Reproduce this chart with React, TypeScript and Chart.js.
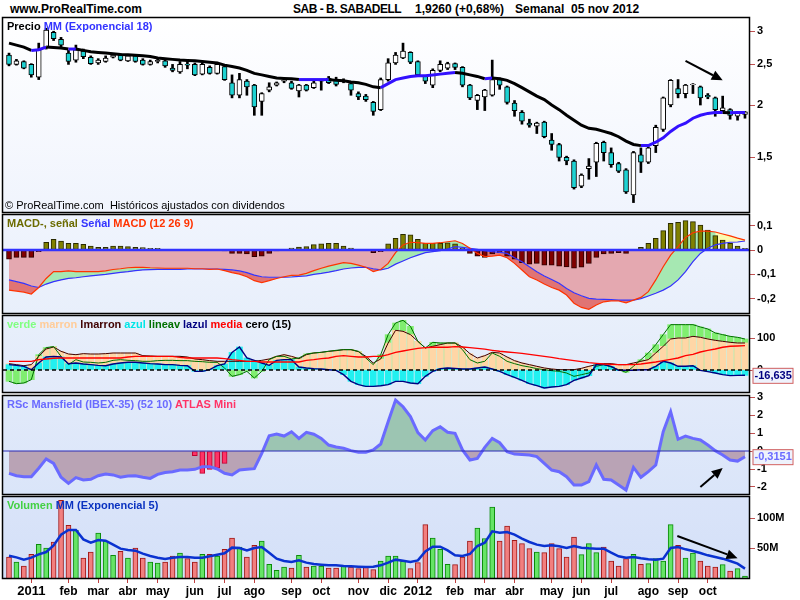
import React, { useEffect, useRef } from "react";
import { Chart, registerables } from "chart.js";

Chart.register(...registerables);

const FONT = '"Liberation Sans", Arial, Helvetica, sans-serif';
Chart.defaults.font.family = FONT;

// ---------------- DATA ----------------
const opens = [
  2.63, 2.50, 2.54, 2.50, 2.33, 2.74, 2.98, 2.87, 2.66, 2.56,
  2.69, 2.60, 2.52, 2.54, 2.60, 2.63, 2.55, 2.62, 2.56, 2.50,
  2.54, 2.55, 2.45, 2.40, 2.505, 2.50, 2.37, 2.46, 2.38, 2.47,
  2.26, 2.11, 2.28, 2.23, 2.04, 2.17, 2.23, 2.28, 2.26, 2.16,
  2.23, 2.20, 2.28, 2.32, 2.30, 2.28, 2.25, 2.13, 2.10, 2.03,
  1.95, 2.30, 2.52, 2.59, 2.67, 2.54, 2.34, 2.23, 2.42, 2.45,
  2.51, 2.46, 2.23, 2.05, 2.09, 2.11, 2.30, 2.21, 2.02, 1.92,
  1.81, 1.78, 1.82, 1.65, 1.61, 1.50, 1.47, 1.28, 1.41, 1.46,
  1.63, 1.54, 1.45, 1.40, 1.22, 1.52, 1.46, 1.60, 1.75, 2.00,
  2.19, 2.13, 2.235, 2.21, 2.11, 2.08, 1.94, 1.95, 1.88, 1.90,
];
const highs = [
  2.66, 2.57, 2.55, 2.51, 2.81, 3.05, 3.00, 2.90, 2.70, 2.78,
  2.72, 2.62, 2.58, 2.62, 2.65, 2.65, 2.64, 2.64, 2.58, 2.56,
  2.58, 2.58, 2.50, 2.54, 2.56, 2.52, 2.52, 2.48, 2.53, 2.50,
  2.36, 2.38, 2.30, 2.24, 2.14, 2.26, 2.27, 2.31, 2.28, 2.24,
  2.24, 2.28, 2.30, 2.34, 2.33, 2.31, 2.27, 2.15, 2.12, 2.04,
  2.32, 2.58, 2.67, 2.81, 2.68, 2.55, 2.35, 2.44, 2.55, 2.53,
  2.52, 2.47, 2.24, 2.12, 2.18, 2.56, 2.32, 2.22, 2.05, 1.94,
  1.85, 1.82, 1.83, 1.71, 1.62, 1.51, 1.48, 1.37, 1.49, 1.63,
  1.64, 1.58, 1.46, 1.41, 1.55, 1.58, 1.59, 1.79, 2.09, 2.30,
  2.30, 2.24, 2.25, 2.22, 2.13, 2.09, 2.10, 1.96, 1.93, 1.93,
];
const lows = [
  2.48, 2.49, 2.44, 2.33, 2.30, 2.72, 2.85, 2.75, 2.50, 2.53,
  2.58, 2.50, 2.50, 2.53, 2.59, 2.55, 2.54, 2.53, 2.49, 2.49,
  2.52, 2.46, 2.40, 2.38, 2.44, 2.35, 2.36, 2.37, 2.37, 2.29,
  2.08, 2.08, 2.11, 1.89, 1.89, 2.15, 2.22, 2.26, 2.18, 2.09,
  2.16, 2.19, 2.17, 2.25, 2.22, 2.26, 2.11, 2.06, 2.04, 1.89,
  1.94, 2.28, 2.50, 2.58, 2.51, 2.35, 2.25, 2.20, 2.40, 2.43,
  2.43, 2.21, 2.06, 1.95, 1.94, 2.10, 2.18, 2.01, 1.88, 1.80,
  1.77, 1.71, 1.67, 1.56, 1.47, 1.44, 1.26, 1.27, 1.33, 1.35,
  1.47, 1.42, 1.38, 1.23, 1.17, 1.38, 1.45, 1.54, 1.73, 1.98,
  2.08, 2.08, 2.13, 2.00, 2.07, 1.88, 1.93, 1.85, 1.84, 1.86,
];
const closes = [
  2.50, 2.55, 2.45, 2.36, 2.71, 3.02, 2.88, 2.78, 2.54, 2.71,
  2.61, 2.51, 2.56, 2.59, 2.63, 2.56, 2.62, 2.54, 2.50, 2.54,
  2.555, 2.48, 2.42, 2.50, 2.49, 2.36, 2.50, 2.38, 2.50, 2.30,
  2.11, 2.30, 2.21, 1.98, 2.13, 2.21, 2.26, 2.29, 2.19, 2.23,
  2.17, 2.26, 2.29, 2.26, 2.24, 2.29, 2.17, 2.09, 2.06, 1.93,
  2.30, 2.52, 2.63, 2.69, 2.53, 2.36, 2.28, 2.42, 2.50, 2.51,
  2.46, 2.23, 2.08, 2.11, 2.17, 2.30, 2.23, 2.03, 1.94, 1.83,
  1.79, 1.81, 1.68, 1.61, 1.50, 1.47, 1.27, 1.36, 1.43, 1.62,
  1.54, 1.44, 1.39, 1.24, 1.54, 1.46, 1.58, 1.77, 2.08, 2.29,
  2.13, 2.23, 2.24, 2.08, 2.09, 1.95, 1.97, 1.89, 1.92, 1.926,
];
const priceEma = [
  2.81, 2.78, 2.75, 2.70, 2.71, 2.75, 2.745, 2.735, 2.72, 2.72,
  2.70, 2.68, 2.67, 2.66, 2.65, 2.64, 2.635, 2.63, 2.62, 2.61,
  2.59, 2.58, 2.57, 2.56, 2.555, 2.55, 2.54, 2.53, 2.52, 2.49,
  2.47, 2.45, 2.42, 2.38, 2.36, 2.34, 2.32, 2.315, 2.31, 2.30,
  2.30, 2.30, 2.30, 2.30, 2.29, 2.285, 2.27, 2.26, 2.24, 2.21,
  2.20, 2.25, 2.30, 2.32, 2.34, 2.35, 2.35, 2.36, 2.37, 2.38,
  2.39, 2.38, 2.36, 2.34, 2.31, 2.32, 2.31, 2.29, 2.25, 2.20,
  2.15, 2.10, 2.06, 2.00, 1.95, 1.89, 1.84, 1.79, 1.76, 1.75,
  1.73, 1.71, 1.68, 1.64, 1.61, 1.60, 1.60, 1.63, 1.67, 1.73,
  1.78, 1.81, 1.86, 1.89, 1.91, 1.92, 1.92, 1.918, 1.92, 1.92,
];

const macdLine = [
  -0.165, -0.169, -0.173, -0.181, -0.154, -0.117, -0.089, -0.089, -0.086, -0.089,
  -0.089, -0.089, -0.089, -0.086, -0.080, -0.077, -0.073, -0.071, -0.071, -0.073,
  -0.074, -0.075, -0.075, -0.075, -0.075, -0.077, -0.077, -0.080, -0.078, -0.085,
  -0.093, -0.099, -0.110, -0.126, -0.134, -0.126, -0.117, -0.110, -0.104, -0.103,
  -0.096, -0.085, -0.075, -0.066, -0.059, -0.052, -0.055, -0.062, -0.071, -0.089,
  -0.080, -0.055, -0.011, 0.021, 0.032, 0.030, 0.027, 0.027, 0.030, 0.034,
  0.038, 0.027, 0.007, -0.014, -0.027, -0.025, -0.021, -0.032, -0.055, -0.082,
  -0.110, -0.123, -0.140, -0.154, -0.165, -0.185, -0.219, -0.236, -0.244, -0.226,
  -0.213, -0.209, -0.209, -0.217, -0.206, -0.195, -0.171, -0.123, -0.069, -0.021,
  0.014, 0.052, 0.071, 0.078, 0.078, 0.074, 0.066, 0.058, 0.049, 0.041,
];
const signalLine = [
  -0.123, -0.130, -0.137, -0.148, -0.154, -0.140, -0.130, -0.123, -0.117, -0.114,
  -0.110, -0.106, -0.103, -0.100, -0.096, -0.092, -0.089, -0.085, -0.082, -0.081,
  -0.080, -0.080, -0.080, -0.080, -0.078, -0.078, -0.078, -0.078, -0.078, -0.080,
  -0.082, -0.086, -0.093, -0.103, -0.110, -0.112, -0.112, -0.112, -0.111, -0.108,
  -0.106, -0.100, -0.096, -0.091, -0.085, -0.078, -0.074, -0.071, -0.071, -0.077,
  -0.082, -0.075, -0.058, -0.045, -0.032, -0.021, -0.011, -0.007, -0.003, 0.004,
  0.014, 0.011, 0.007, 0.003, -0.003, -0.007, -0.010, -0.014, -0.032, -0.048,
  -0.069, -0.089, -0.107, -0.121, -0.137, -0.158, -0.176, -0.188, -0.199, -0.202,
  -0.203, -0.204, -0.206, -0.206, -0.206, -0.200, -0.189, -0.178, -0.165, -0.148,
  -0.123, -0.089, -0.048, -0.014, 0.007, 0.021, 0.027, 0.032, 0.033, 0.037,
];
const macdHist = [
  -0.038, -0.030, -0.030, -0.030, -0.007, 0.032, 0.044, 0.037, 0.027, 0.027,
  0.023, 0.016, 0.011, 0.011, 0.016, 0.016, 0.014, 0.011, 0.010, 0.007,
  0.007, 0.002, 0.002, 0.002, 0.002, 0.001, 0.001, 0.001, 0.001, -0.004,
  -0.014, -0.014, -0.016, -0.027, -0.025, -0.014, -0.004, 0.002, 0.008, 0.012,
  0.014, 0.022, 0.025, 0.027, 0.027, 0.016, 0.008, 0.003, 0.001, -0.011,
  -0.007, 0.025, 0.048, 0.064, 0.062, 0.044, 0.027, 0.027, 0.027, 0.030,
  0.025, 0.007, -0.014, -0.025, -0.030, -0.016, -0.011, -0.025, -0.038, -0.052,
  -0.058, -0.055, -0.062, -0.062, -0.066, -0.069, -0.075, -0.071, -0.055, -0.030,
  -0.016, -0.014, -0.011, -0.014, 0.003, 0.011, 0.027, 0.048, 0.080, 0.110,
  0.114, 0.121, 0.117, 0.103, 0.082, 0.059, 0.041, 0.027, 0.016, 0.007,
];
// first week of the pale-yellow (weakening) zone at the end of the MACD panel
const macdFadeStart = 95;

// oscillator "verde marron lmarron azul lineav lazul media cero (15)"
const oscMedia = [
  27.1, 27.1, 27.1, 27.1, 32.3, 34.4, 36.5, 37.5, 37.5, 37.5,
  37.5, 37.5, 37.5, 37.5, 37.5, 37.5, 40.6, 42.7, 42.7, 42.7,
  42.7, 42.7, 42.7, 39.6, 37.5, 37.5, 37.5, 37.5, 37.5, 35.4,
  32.3, 30.2, 27.1, 27.1, 25.0, 25.0, 25.0, 25.0, 25.0, 25.0,
  30.2, 32.3, 35.4, 37.5, 42.7, 44.8, 42.7, 40.6, 40.6, 42.7,
  42.7, 47.9, 55.2, 59.4, 63.6, 67.7, 69.8, 70.9, 70.9, 70.9,
  72.9, 71.9, 70.0, 67.7, 65.1, 61.5, 58.4, 56.3, 54.2, 52.1,
  49.0, 45.8, 42.7, 39.6, 35.4, 32.3, 29.2, 26.1, 22.9, 20.8,
  18.8, 17.7, 16.7, 16.7, 16.7, 18.8, 21.9, 25.0, 29.2, 33.3,
  37.5, 44.8, 49.0, 56.3, 61.5, 65.6, 70.9, 74.0, 75.0, 76.1,
];
const oscLmarron = [
  19.8, 16.7, 13.5, 16.7, 42.7, 65.6, 71.9, 58.4, 50.0, 47.9,
  51.1, 50.0, 50.0, 51.1, 53.1, 53.1, 53.1, 53.1, 44.8, 43.8,
  42.7, 42.7, 42.7, 42.7, 40.6, 34.4, 32.3, 29.2, 27.1, 27.1,
  27.1, 27.1, 27.1, 27.1, 30.2, 34.4, 42.7, 47.9, 42.7, 35.4,
  47.9, 53.1, 55.2, 58.4, 60.4, 63.6, 63.6, 57.3, 42.7, 21.9,
  34.4, 84.4, 124.0, 120.9, 110.5, 89.6, 68.8, 74.0, 79.2, 84.4,
  84.4, 71.9, 51.1, 37.5, 44.8, 55.2, 53.1, 40.6, 29.2, 21.9,
  16.7, 11.5, 6.3, 3.1, 1.0, 1.0, 1.0, 5.2, 11.5, 16.7,
  19.8, 19.8, 16.7, 16.7, 21.9, 27.1, 32.3, 53.1, 74.0, 96.9,
  100.0, 100.0, 105.2, 102.1, 96.9, 92.7, 89.6, 86.5, 84.4, 84.4,
];
const oscLineav = [
  -35.4, -42.7, -40.6, -30.2, 48.0, 70.0, 73.0, 42.7, 16.7, 32.3,
  25.0, 24.0, 21.9, 24.0, 30.2, 32.3, 30.2, 29.2, 27.1, 27.1,
  29.2, 30.2, 30.2, 29.2, 29.2, 27.1, 26.0, 24.0, 24.0, 6.3,
  -19.8, -14.6, -4.2, -25.0, -4.2, 32.3, 42.7, 42.7, 34.4, 37.5,
  50.0, 53.1, 55.2, 58.4, 61.5, 63.6, 63.6, 58.4, 37.5, 16.7,
  47.9, 110.5, 146.9, 155.3, 136.5, 89.6, 68.8, 86.5, 84.4, 84.4,
  84.4, 63.6, 32.3, 21.9, 27.1, 53.1, 42.7, 27.1, 19.8, 13.5,
  9.4, 4.2, 1.0, -2.1, -4.2, -9.4, -19.8, -14.6, -9.4, 11.5,
  16.7, 9.4, 1.0, -7.3, 11.5, 32.3, 53.1, 79.2, 110.5, 141.7,
  141.7, 141.7, 141.7, 134.4, 128.2, 115.7, 110.5, 105.2, 102.1, 96.9,
];
const oscLazul = [
  16.7, 14.6, 11.5, 1.0, 21.9, 40.6, 42.7, 40.6, 19.8, 21.9,
  18.8, 16.7, 14.6, 13.5, 18.8, 21.9, 24.0, 24.0, 21.9, 19.8,
  18.8, 16.7, 16.7, 14.6, 13.5, -4.2, -4.2, 1.0, 13.5, 18.8,
  55.0, 71.9, 37.5, 30.2, 21.9, 14.6, 30.2, 32.3, 32.3, 9.4,
  6.3, 4.2, 3.1, 1.0, -1.0, -14.6, -35.4, -45.8, -51.1, -51.1,
  -49.0, -45.8, -35.4, -35.4, -40.6, -42.7, -19.8, -4.2, 4.2, 6.3,
  5.2, 3.1, 3.1, 6.3, 9.4, 3.1, -4.2, -14.6, -22.9, -32.3,
  -42.7, -49.0, -56.3, -53.1, -51.1, -45.8, -32.3, -25.0, -17.7, 16.7,
  16.7, 11.5, -1.0, -1.0, -1.0, 1.0, 1.0, 11.5, 27.1, 21.9,
  11.5, 11.5, 13.5, -1.0, -5.2, -9.4, -14.6, -17.7, -16.7, -16.635,
];

const rscValues = [
  -1.24, -1.37, -1.43, -1.43, -0.96, -0.44, -0.69, -1.46, -1.80, -1.48,
  -1.61, -1.57, -1.37, -1.28, -1.33, -1.46, -1.39, -1.37, -1.46, -1.52,
  -1.30, -1.20, -1.15, -1.06, -1.06, -1.02, -0.87, -0.87, -1.00, -1.24,
  -1.33, -1.06, -1.02, -0.98, -0.13, 0.85, 0.94, 0.83, 1.07, 0.70,
  1.04, 0.93, 0.70, 0.33, 0.22, 0.15, 0.02, -0.07, -0.07, 0.06,
  0.39, 1.63, 2.83, 2.46, 1.91, 1.02, 0.61, 1.13, 1.35, 1.04,
  0.98, 0.06, -0.50, -0.41, 0.20, 0.70, 0.46, -0.04, -0.17, -0.19,
  -0.22, -0.31, -0.69, -1.06, -1.15, -1.43, -1.89, -1.89, -1.70, -0.78,
  -1.57, -1.61, -1.89, -2.17, -0.91, -1.46, -1.15, -0.78, 1.07, 2.19,
  0.65, 0.83, 0.70, 0.61, 0.33, 0.02, -0.22, -0.50, -0.56, -0.3151,
];
const atlasIdx = [25, 26, 27, 28, 29];
const atlasVals = [-0.26, -1.24, -1.02, -0.96, -0.69];

const volumes = [
  35.0, 26.7, 20.0, 39.4, 56.1, 50.0, 60.0, 129.4, 87.8, 79.4,
  33.3, 43.3, 75.0, 61.7, 37.8, 44.4, 33.3, 50.0, 33.3, 26.7,
  25.0, 26.7, 36.7, 41.7, 32.2, 26.7, 39.4, 39.4, 36.7, 47.8,
  66.7, 51.7, 35.0, 54.4, 61.7, 22.8, 12.8, 18.3, 16.7, 37.8,
  18.3, 20.0, 20.0, 16.7, 16.7, 20.0, 18.3, 15.6, 18.3, 13.9,
  28.3, 36.7, 36.7, 27.8, 15.6, 25.6, 88.9, 66.7, 47.8, 22.8,
  22.2, 35.0, 61.7, 83.3, 65.6, 118.3, 61.7, 86.7, 62.8, 57.2,
  48.9, 43.3, 42.2, 57.2, 48.9, 35.0, 68.3, 38.9, 57.2, 42.2,
  51.7, 28.3, 20.0, 32.2, 39.4, 22.8, 23.9, 32.2, 28.3, 88.9,
  54.4, 33.3, 41.7, 28.3, 20.0, 18.3, 22.2, 11.7, 15.6, 3.3,
];
const volumeEma = [
  37.2, 34.4, 30.6, 33.9, 39.4, 43.3, 54.4, 72.2, 80.0, 80.0,
  64.4, 58.9, 63.3, 62.2, 55.6, 48.9, 46.7, 45.6, 40.6, 36.7,
  33.9, 31.7, 33.9, 35.0, 35.0, 33.9, 33.9, 36.1, 38.9, 41.1,
  50.6, 50.0, 46.1, 50.0, 51.7, 42.2, 32.2, 28.3, 26.7, 29.4,
  25.6, 23.3, 22.2, 21.1, 21.1, 20.0, 19.4, 18.9, 18.3, 18.9,
  21.1, 25.6, 30.6, 28.9, 26.7, 29.4, 44.4, 52.2, 52.2, 46.1,
  37.8, 36.7, 40.0, 53.3, 58.9, 77.8, 75.6, 76.7, 72.2, 65.6,
  60.0, 55.6, 53.3, 54.4, 52.8, 50.0, 53.3, 50.6, 49.4, 48.9,
  48.9, 42.2, 36.1, 33.9, 35.0, 32.8, 31.1, 30.6, 32.2, 50.0,
  51.7, 47.8, 45.0, 41.7, 37.8, 35.0, 32.2, 28.3, 23.9, 15.6,
];

const monthTickIdx = [3, 8, 12, 16, 20, 25, 29, 33, 38, 42, 47, 51, 55, 60, 64, 68, 73, 77, 81, 86, 90, 94];
const monthLabels = ["2011", "feb", "mar", "abr", "may", "jun", "jul", "ago", "sep", "oct", "nov", "dic",
  "2012", "feb", "mar", "abr", "may", "jun", "jul", "ago", "sep", "oct"];

const priceTicks = [1.5, 2, 2.5, 3];
const priceTickLabels = ["1,5", "2", "2,5", "3"];
const macdTicks = [-0.2, -0.1, 0, 0.1];
const macdTickLabels = ["-0,2", "-0,1", "0", "0,1"];
const oscTicks = [0, 100];
const oscTickLabels = ["0", "100"];
const rscTicks = [-2, -1, 0, 1, 2, 3];
const rscTickLabels = ["-2", "-1", "0", "1", "2", "3"];
const volTicks = [50, 100];
const volTickLabels = ["50M", "100M"];

const priceArrow = { from: [91, 2.55], to: [96, 2.29] };
const rscArrow = { from: [93, -2.0], to: [96, -0.94] };
const volArrow = { from: [89.9, 70], to: [98, 33] };

// ---------------- LAYOUT ----------------
const X_MIN = -0.807;
const X_MAX = 99.54;
const PAD = 10;
const AXIS_W = 51;
const XAXIS_H = 22;

const P_PRICE = { top: 18, bottom: 212, min: 1.111, max: 3.226 };
const P_MACD = { top: 215, bottom: 313, min: -0.259, max: 0.144 };
const P_OSC = { top: 316, bottom: 392, min: -68.75, max: 168.75 };
const P_RSC = { top: 396, bottom: 494, min: -2.389, max: 3.056 };
const P_VOL = { top: 497, bottom: 578, min: 0, max: 135 };

const idx = opens.map((_, i) => i);
const isUp = (i: number) => closes[i] >= opens[i];
const pts = (arr: number[]) => arr.map((y, i) => ({ x: i, y }));

function bgAt(y: number) {
  const t = Math.min(1, Math.max(0, (y - 18) / 560));
  const a = [255, 255, 255];
  const b = [212, 224, 248];
  const c = a.map((v, k) => Math.round(v + (b[k] - v) * t));
  return `rgb(${c[0]},${c[1]},${c[2]})`;
}

function drawArrow(ctx: any, x0: number, y0: number, x1: number, y1: number) {
  const ang = Math.atan2(y1 - y0, x1 - x0);
  const L = 11, W = 5;
  const bx = x1 - L * Math.cos(ang), by = y1 - L * Math.sin(ang);
  ctx.save();
  ctx.strokeStyle = "#000";
  ctx.lineWidth = 2;
  ctx.beginPath();
  ctx.moveTo(x0, y0);
  ctx.lineTo(bx, by);
  ctx.stroke();
  ctx.fillStyle = "#000";
  ctx.beginPath();
  ctx.moveTo(x1, y1);
  ctx.lineTo(bx - W * Math.sin(ang), by + W * Math.cos(ang));
  ctx.lineTo(bx + W * Math.sin(ang), by - W * Math.cos(ang));
  ctx.closePath();
  ctx.fill();
  ctx.restore();
}

function panelPlugin(cfg: any) {
  return {
    id: "panel" + cfg.top,
    beforeDraw(chart: any) {
      const { ctx, chartArea: a } = chart;
      const g = ctx.createLinearGradient(0, a.top, 0, a.bottom);
      g.addColorStop(0, bgAt(cfg.top));
      g.addColorStop(1, bgAt(cfg.bottom));
      ctx.save();
      ctx.fillStyle = g;
      ctx.fillRect(a.left, a.top, a.right - a.left, a.bottom - a.top);
      ctx.restore();
    },
    afterDatasetsDraw(chart: any) {
      const { ctx, chartArea: a } = chart;
      const ys = chart.scales.y;
      (cfg.refLines || []).forEach((r: any) => {
        const y = ys.getPixelForValue(r.v);
        ctx.save();
        ctx.strokeStyle = r.color;
        ctx.lineWidth = r.width;
        if (r.dash) ctx.setLineDash(r.dash);
        ctx.beginPath();
        ctx.moveTo(a.left, y);
        ctx.lineTo(a.right, y);
        ctx.stroke();
        ctx.restore();
      });
    },
    afterDraw(chart: any) {
      const { ctx, chartArea: a } = chart;
      const xs = chart.scales.x, ys = chart.scales.y;
      ctx.save();
      (cfg.arrows || []).forEach((ar: any) => {
        drawArrow(ctx, xs.getPixelForValue(ar.from[0]), ys.getPixelForValue(ar.from[1]),
          xs.getPixelForValue(ar.to[0]), ys.getPixelForValue(ar.to[1]));
      });
      ctx.font = `bold 11px ${FONT}`;
      ctx.textBaseline = "alphabetic";
      ctx.textAlign = "left";
      let x = a.left + 4;
      (cfg.labels || []).forEach((s: any) => {
        ctx.fillStyle = s.c;
        ctx.fillText(s.t, x, a.top + 12);
        x += ctx.measureText(s.t).width;
      });
      if (cfg.footer) {
        ctx.font = `11px ${FONT}`;
        ctx.fillStyle = "#000";
        ctx.fillText(cfg.footer, a.left + 2, a.bottom - 3);
      }
      ctx.strokeStyle = "#000";
      ctx.lineWidth = 1.5;
      ctx.strokeRect(a.left - 0.5, a.top - 0.5, a.right - a.left + 1, a.bottom - a.top + 1);
      (cfg.boxes || []).forEach((b: any) => {
        const y = ys.getPixelForValue(b.v);
        const bx = a.right + 3.5, bw = 40, bh = 15;
        ctx.fillStyle = "#eef2fc";
        ctx.fillRect(bx, y - bh / 2, bw, bh);
        ctx.strokeStyle = "#d06060";
        ctx.lineWidth = 1;
        ctx.strokeRect(bx + 0.5, y - bh / 2 + 0.5, bw, bh);
        ctx.font = `bold 11px ${FONT}`;
        ctx.fillStyle = b.color;
        ctx.textBaseline = "middle";
        ctx.fillText(b.text, bx + 2, y + 0.5);
        ctx.textBaseline = "alphabetic";
      });
      ctx.restore();
    },
  };
}

function xScale(show: boolean) {
  return {
    type: "linear",
    min: X_MIN,
    max: X_MAX,
    offset: false,
    display: show,
    position: "bottom",
    grid: { display: show, offset: false, drawOnChartArea: false, drawTicks: true, tickLength: 5, color: "#c04040" },
    border: { display: false },
    afterBuildTicks: (axis: any) => { axis.ticks = monthTickIdx.map((v) => ({ value: v })); },
    afterFit: (s: any) => { s.height = show ? XAXIS_H : 0; },
    ticks: {
      display: show,
      autoSkip: false,
      maxRotation: 0,
      padding: 1,
      color: "#000",
      font: (c: any) => ({ family: FONT, weight: "bold", size: (monthLabels[c.index] || "").length === 4 ? 13 : 12 }),
      callback: (_v: any, i: number) => monthLabels[i],
    },
  };
}

function yScale(p: any, ticks: number[], labels: string[], type = "linear") {
  return {
    type,
    position: "right",
    min: p.min,
    max: p.max,
    grid: { drawOnChartArea: false, drawTicks: true, tickLength: 6, color: "#c05050" },
    border: { display: false },
    afterBuildTicks: (axis: any) => { axis.ticks = ticks.map((v) => ({ value: v })); },
    afterFit: (s: any) => { s.width = AXIS_W; },
    ticks: {
      autoSkip: false,
      padding: 2,
      color: "#000",
      font: { family: FONT, weight: "bold", size: 11 },
      callback: (_v: any, i: number) => labels[i],
    },
  };
}

function baseOptions(p: any, last: boolean, y: any) {
  return {
    responsive: false,
    animation: false,
    events: [],
    layout: { padding: { left: 3, right: 0, top: PAD, bottom: last ? 0 : PAD } },
    plugins: {
      legend: { display: false },
      tooltip: { enabled: false },
      filler: { drawTime: "beforeDatasetsDraw", propagate: false },
    },
    scales: { x: xScale(last), y },
  };
}

const fmt = (v: number, d: number) => v.toFixed(d).replace(".", ",");

function priceConfig(): any {
  return {
    type: "bar",
    data: {
      datasets: [
        {
          type: "line",
          data: pts(priceEma),
          borderWidth: 3,
          pointRadius: 0,
          tension: 0,
          borderColor: "#000",
          segment: {
            borderColor: (c: any) => (priceEma[c.p1DataIndex] >= priceEma[c.p0DataIndex] ? "#3311ff" : "#000000"),
          },
          order: 0,
        },
        {
          type: "bar",
          data: idx.map((i) => ({ x: i, y: [opens[i], closes[i]] })),
          backgroundColor: idx.map((i) => (isUp(i) ? "#ffffff" : "#1ed2d2")),
          borderColor: "#000",
          borderWidth: 1,
          borderSkipped: false,
          barThickness: 5,
          grouped: false,
          order: 1,
        },
        {
          type: "bar",
          data: idx.map((i) => ({ x: i, y: [lows[i], highs[i]] })),
          backgroundColor: "#000",
          borderWidth: 0,
          barThickness: 2,
          grouped: false,
          order: 2,
        },
      ],
    },
    options: baseOptions(P_PRICE, false, yScale(P_PRICE, priceTicks, priceTickLabels, "logarithmic")),
    plugins: [panelPlugin({
      top: P_PRICE.top, bottom: P_PRICE.bottom,
      labels: [{ t: "Precio ", c: "#000" }, { t: "MM (Exponencial 18)", c: "#3333ff" }],
      footer: "© ProRealTime.com  Históricos ajustados con dividendos",
      arrows: [priceArrow],
    })],
  };
}

function macdConfig(): any {
  return {
    type: "bar",
    data: {
      datasets: [
        {
          type: "line",
          data: pts(macdLine),
          borderColor: "#ff3300",
          borderWidth: 1.2,
          pointRadius: 0,
          tension: 0,
          fill: { target: 1, above: "#a6e8b2", below: "#e07474" },
        },
        {
          type: "line",
          data: pts(signalLine),
          borderColor: "#3333ff",
          borderWidth: 1.2,
          pointRadius: 0,
          tension: 0,
          fill: { target: "origin", above: "rgba(0,0,0,0)", below: "#e4a8b0" },
        },
        {
          type: "bar",
          data: pts(macdHist),
          backgroundColor: macdHist.map((v) => (v >= 0 ? "#808000" : "#800000")),
          borderColor: macdHist.map((v) => (v >= 0 ? "#2a2a00" : "#2a0000")),
          borderWidth: 1,
          borderSkipped: false,
          barThickness: 5,
          grouped: false,
        },
        {
          type: "line",
          data: pts(macdLine).slice(macdFadeStart),
          borderWidth: 0,
          borderColor: "rgba(0,0,0,0)",
          pointRadius: 0,
          tension: 0,
          fill: { target: 1, above: "#fbfbb0", below: "rgba(0,0,0,0)" },
          order: -1,
        },
      ],
    },
    options: baseOptions(P_MACD, false, yScale(P_MACD, macdTicks, macdTickLabels)),
    plugins: [panelPlugin({
      top: P_MACD.top, bottom: P_MACD.bottom,
      labels: [{ t: "MACD-, señal ", c: "#6b6b00" }, { t: "Señal ", c: "#3333ff" }, { t: "MACD (12 26 9)", c: "#ff3300" }],
      refLines: [{ v: 0, color: "#3333ff", width: 2.5 }],
    })],
  };
}

function oscConfig(): any {
  const bar = (arr: number[], color: string, order: number) => ({
    type: "bar",
    data: pts(arr),
    backgroundColor: color,
    borderWidth: 0,
    barThickness: 6,
    grouped: false,
    order,
  });
  const line = (arr: number[], color: string, w: number, order: number) => ({
    type: "line",
    data: pts(arr),
    borderColor: color,
    borderWidth: w,
    pointRadius: 0,
    tension: 0,
    order,
  });
  return {
    type: "bar",
    data: {
      datasets: [
        line(oscMedia, "#ff0000", 1.4, 0),
        line(oscLazul, "#000080", 1.4, 1),
        line(oscLineav, "#007000", 1, 2),
        line(oscLmarron, "#400000", 1, 3),
        bar(oscLazul, "#22f0f0", 4),
        bar(oscLmarron, "#ffd6a6", 5),
        bar(oscLineav, "#80ee70", 6),
      ],
    },
    options: baseOptions(P_OSC, false, yScale(P_OSC, oscTicks, oscTickLabels)),
    plugins: [panelPlugin({
      top: P_OSC.top, bottom: P_OSC.bottom,
      labels: [
        { t: "verde ", c: "#80ff80" }, { t: "marron ", c: "#ffcc99" }, { t: "lmarron ", c: "#400000" },
        { t: "azul ", c: "#00e6e6" }, { t: "lineav ", c: "#007000" }, { t: "lazul ", c: "#000080" },
        { t: "media ", c: "#ff0000" }, { t: "cero (15)", c: "#000" },
      ],
      refLines: [{ v: 0, color: "#000", width: 1.5, dash: [4, 3] }],
      boxes: [{ v: oscLazul[oscLazul.length - 1], text: fmt(oscLazul[oscLazul.length - 1], 3), color: "#000080" }],
    })],
  };
}

function rscConfig(): any {
  const last = rscValues[rscValues.length - 1];
  return {
    type: "bar",
    data: {
      datasets: [
        {
          type: "line",
          data: pts(rscValues),
          borderColor: "#6a6aff",
          borderWidth: 3,
          pointRadius: 0,
          tension: 0,
          fill: { target: "origin", above: "#9cc5b2", below: "#b9a3b5" },
          order: 0,
        },
        {
          type: "bar",
          data: atlasIdx.map((x, k) => ({ x, y: atlasVals[k] })),
          backgroundColor: "#ff3366",
          borderColor: "#c00030",
          borderWidth: 1,
          borderSkipped: false,
          barThickness: 5,
          grouped: false,
          order: 1,
        },
      ],
    },
    options: baseOptions(P_RSC, false, yScale(P_RSC, rscTicks, rscTickLabels)),
    plugins: [panelPlugin({
      top: P_RSC.top, bottom: P_RSC.bottom,
      labels: [{ t: "RSc Mansfield (IBEX-35) (52 10) ", c: "#6a6aff" }, { t: "ATLAS Mini", c: "#ff3366" }],
      refLines: [{ v: 0, color: "#2a2ab8", width: 1 }],
      boxes: [{ v: last, text: fmt(last, 4), color: "#6a6aff" }],
      arrows: [rscArrow],
    })],
  };
}

function volConfig(): any {
  return {
    type: "bar",
    data: {
      datasets: [
        {
          type: "line",
          data: pts(volumeEma),
          borderColor: "#0a32d0",
          borderWidth: 2.5,
          pointRadius: 0,
          tension: 0,
          order: 0,
        },
        {
          type: "bar",
          data: pts(volumes),
          backgroundColor: idx.map((i) => (isUp(i) ? "#66e466" : "#f27f7f")),
          borderColor: idx.map((i) => (isUp(i) ? "#0a8a0a" : "#a01818")),
          borderWidth: 1,
          barThickness: 5,
          grouped: false,
          order: 1,
        },
      ],
    },
    options: baseOptions(P_VOL, true, yScale(P_VOL, volTicks, volTickLabels)),
    plugins: [panelPlugin({
      top: P_VOL.top, bottom: P_VOL.bottom,
      labels: [{ t: "Volumen ", c: "#44d044" }, { t: "MM (Exponencial 5)", c: "#0a32c0" }],
      arrows: [volArrow],
    })],
  };
}

const PANEL_LIST = [
  { p: P_PRICE, last: false, make: priceConfig },
  { p: P_MACD, last: false, make: macdConfig },
  { p: P_OSC, last: false, make: oscConfig },
  { p: P_RSC, last: false, make: rscConfig },
  { p: P_VOL, last: true, make: volConfig },
];

export default function App() {
  const refs = [useRef<HTMLCanvasElement>(null), useRef<HTMLCanvasElement>(null), useRef<HTMLCanvasElement>(null),
    useRef<HTMLCanvasElement>(null), useRef<HTMLCanvasElement>(null)];

  useEffect(() => {
    document.body.style.margin = "0";
    const charts = PANEL_LIST.map((pl, k) => new Chart(refs[k].current as any, pl.make()));
    return () => charts.forEach((c) => c.destroy());
  }, []);

  const titleFont = `bold 12px ${FONT}`;
  return (
    <div style={{ position: "relative", width: 800, height: 600, background: "#fff", overflow: "hidden" }}>
      <div style={{ position: "absolute", left: 10, top: 2, font: titleFont, color: "#000", whiteSpace: "pre" }}>www.ProRealTime.com</div>
      <div style={{ position: "absolute", left: 293, top: 2, font: titleFont, color: "#000", whiteSpace: "pre", letterSpacing: "-0.5px" }}>SAB - B. SABADELL</div>
      <div style={{ position: "absolute", left: 415, top: 2, font: titleFont, color: "#000", whiteSpace: "pre" }}>1,9260 (+0,68%)</div>
      <div style={{ position: "absolute", left: 515, top: 2, font: titleFont, color: "#000", whiteSpace: "pre" }}>Semanal  05 nov 2012</div>
      {PANEL_LIST.map((pl, k) => {
        const h = pl.p.bottom - pl.p.top + PAD + (pl.last ? XAXIS_H : PAD);
        return (
          <canvas
            key={k}
            ref={refs[k]}
            width={800}
            height={h}
            style={{ position: "absolute", left: 0, top: pl.p.top - PAD, width: 800, height: h }}
          />
        );
      })}
    </div>
  );
}
